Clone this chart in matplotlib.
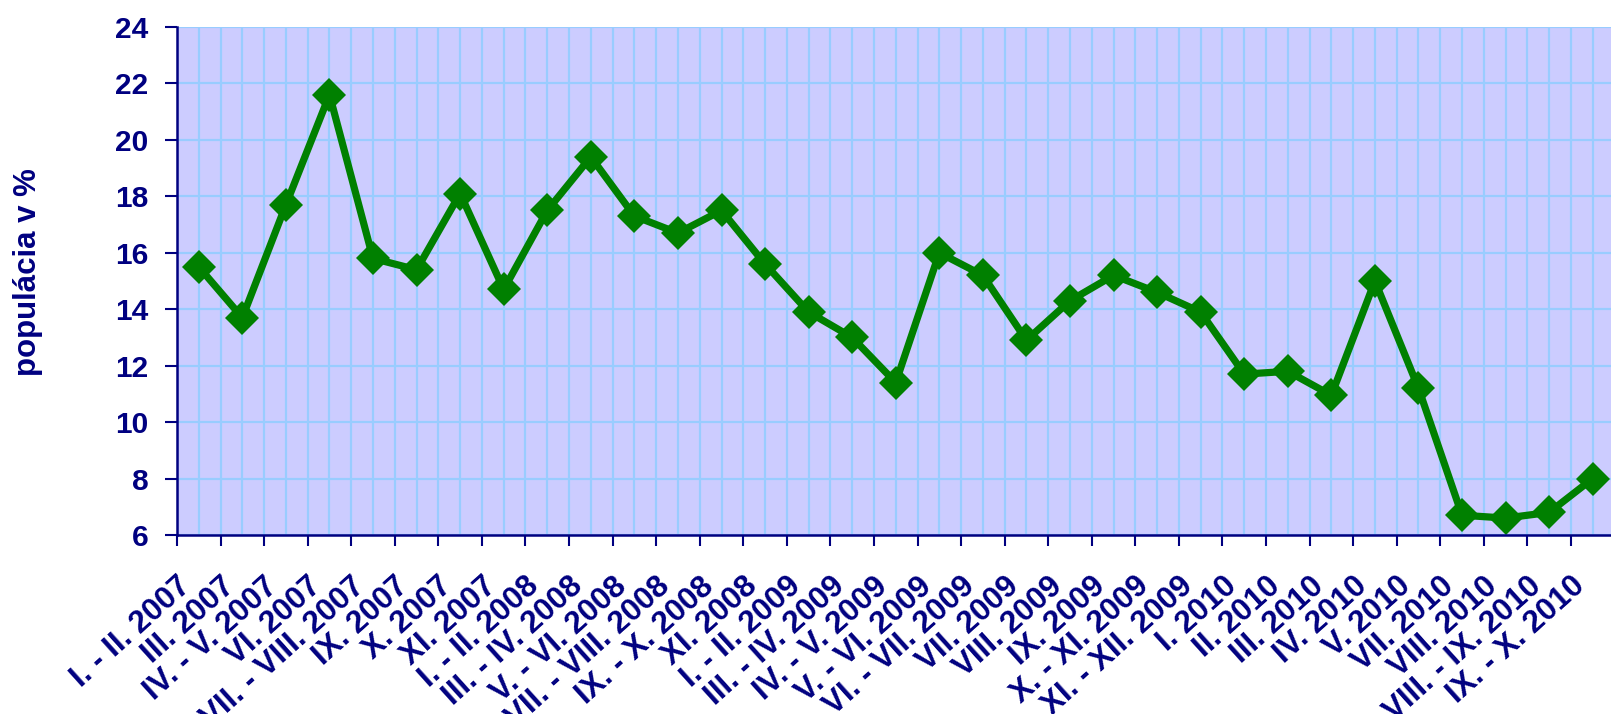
import numpy as np
import matplotlib
matplotlib.use("Agg")
import matplotlib.pyplot as plt
from matplotlib.transforms import ScaledTranslation

plt.rcParams['font.family'] = ['Liberation Sans', 'DejaVu Sans']
plt.rcParams['font.weight'] = 'bold'

categories = [
    "I. - II. 2007", "III. 2007", "IV. - V. 2007", "VI. 2007", "VII. - VIII. 2007",
    "IX. 2007", "X. 2007", "XI. 2007", "I. - II. 2008", "III. - IV. 2008",
    "V. - VI. 2008", "VII. - VIII. 2008", "IX. - X. 2008", "XI. 2008",
    "I. - II. 2009", "III. - IV. 2009", "IV. - V. 2009", "V. - VI. 2009",
    "VI. - VII. 2009", "VII. 2009", "VIII. 2009", "IX. 2009", "X. - XI. 2009",
    "XI. - XII. 2009", "I. 2010", "II. 2010", "III. 2010", "IV. 2010", "V. 2010",
    "VII. 2010", "VIII. 2010", "VIII. - IX. 2010", "IX. - X. 2010",
]
values = [
    15.5, 13.7, 17.7, 21.6, 15.8, 15.4, 18.1, 14.7, 17.5, 19.4, 17.3,
    16.7, 17.5, 15.6, 13.9, 13.0, 11.4, 16.0, 15.2, 12.9, 14.3, 15.2,
    14.6, 13.9, 11.7, 11.8, 10.95, 15.0, 11.2, 6.7, 6.6, 6.8, 8.0,
]
y_ticks = [6, 8, 10, 12, 14, 16, 18, 20, 22, 24]
y_label = "populácia v %"

navy = '#000080'
W, H = 1611, 714
fig = plt.figure(figsize=(W / 100, H / 100), dpi=100)
fig.patch.set_facecolor('white')
left, right, top, bottom = 177, 1614.5, 27, 535
ax = fig.add_axes([left / W, 1 - bottom / H, (right - left) / W, (bottom - top) / H])
ax.set_facecolor('#CCCCFF')

x = np.arange(len(values))
ax.plot(x, values, color='#008000', lw=5.2, marker='D', ms=17.5, mew=0,
        clip_on=False, zorder=3)

ax.set_xlim(-0.5, len(values) - 0.5)
ax.set_ylim(y_ticks[0], y_ticks[-1])
ax.set_yticks(y_ticks)
ax.set_yticklabels([str(v) for v in y_ticks])

ax.set_xticks(np.arange(-0.5, len(values), 1.0))
ax.set_xticklabels([])
ax.set_xticks(x, minor=True)
ax.set_xticklabels(categories, minor=True)

ax.set_axisbelow(True)
ax.yaxis.grid(True, which='major', color='#99CCFF', lw=1.6)
ax.xaxis.grid(True, which='both', color='#99CCFF', lw=1.6)

for s in ['top', 'right']:
    ax.spines[s].set_visible(False)
for s in ['left', 'bottom']:
    ax.spines[s].set_color(navy)
    ax.spines[s].set_linewidth(1.8)
    ax.spines[s].set_zorder(4)

ax.tick_params(axis='y', which='major', direction='out', length=8.6, width=1.5,
               color=navy, labelcolor=navy, labelsize=21.5, pad=12)
ax.tick_params(axis='x', which='major', direction='out', length=8, width=1.5,
               color=navy)
ax.tick_params(axis='x', which='minor', length=0, labelcolor=navy,
               labelsize=22.5, pad=26)

off = ScaledTranslation(-22 / 100, 0, fig.dpi_scale_trans)
for lab in ax.xaxis.get_minorticklabels():
    lab.set_rotation(42)
    lab.set_ha('right')
    lab.set_va('top')
    lab.set_rotation_mode('anchor')
    lab.set_transform(lab.get_transform() + off)

fig.text(28.5 / W, 1 - 272 / H, y_label, rotation=90, ha='center', va='center',
         fontsize=22.5, fontweight='bold', color=navy)

fig.savefig('out.png', dpi=100)
